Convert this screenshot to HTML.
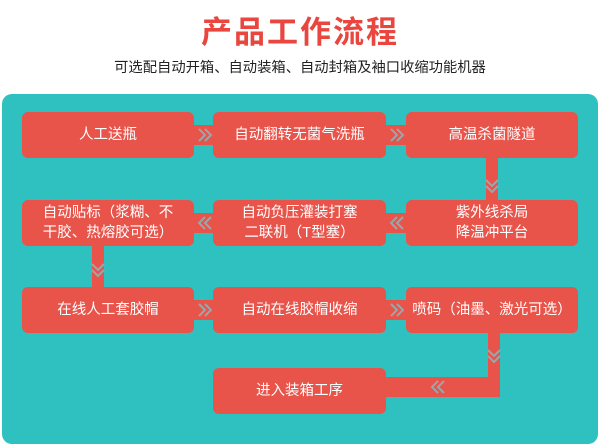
<!DOCTYPE html>
<html><head><meta charset="utf-8"><style>
body{margin:0;width:600px;height:431px;background:#fff;position:relative;overflow:hidden;font-family:"Liberation Sans","Noto Sans CJK SC",sans-serif}
.t{position:absolute;left:0;width:600px;text-align:center}
#panel{position:absolute;left:2px;top:94px;width:596px;height:350px;background:#2fc0c0;border-radius:10px}
.b{position:absolute;background:#e8534a;border-radius:6px;color:#fff;font-size:14.5px;display:flex;align-items:center;justify-content:center;text-align:center;line-height:20px}
.h{position:absolute;background:#e8534a;height:20px}
.v{position:absolute;background:#e8534a;width:12px}
svg{position:absolute;left:0;top:0}
</style></head><body>
<div class="t" style="top:7px;font-size:31px;font-weight:bold;color:#e8463e;letter-spacing:2px">产品工作流程</div>
<div class="t" style="top:56px;font-size:14.3px;color:#222">可选配自动开箱、自动装箱、自动封箱及袖口收缩功能机器</div>
<div id="panel"></div>
<div class="h" style="left:190px;top:125px;width:28px"></div>
<div class="h" style="left:382px;top:125px;width:28px"></div>
<div class="v" style="left:486px;top:154px;height:50px"></div>
<div class="h" style="left:382px;top:213px;width:28px"></div>
<div class="h" style="left:190px;top:213px;width:28px"></div>
<div class="v" style="left:92px;top:242px;height:50px"></div>
<div class="h" style="left:190px;top:300px;width:28px"></div>
<div class="h" style="left:382px;top:300px;width:28px"></div>
<div class="v" style="left:488px;top:328px;height:69px"></div>
<div class="h" style="left:382px;top:377px;width:118px"></div>
<svg width="600" height="431" fill="none" stroke="#9aa6ac" stroke-width="2">
<path d="M199 129l6 6-6 6M205 129l6 6-6 6"/>
<path d="M391 129l6 6-6 6M397 129l6 6-6 6"/>
<path d="M486 180l6 6 6-6M486 186l6 6 6-6"/>
<path d="M403 217l-6 6 6 6M397 217l-6 6 6 6"/>
<path d="M211 217l-6 6 6 6M205 217l-6 6 6 6"/>
<path d="M92 264l6 6 6-6M92 270l6 6 6-6"/>
<path d="M199 304l6 6-6 6M205 304l6 6-6 6"/>
<path d="M391 304l6 6-6 6M397 304l6 6-6 6"/>
<path d="M488 350l6 6 6-6M488 356l6 6 6-6"/>
<path d="M444 381l-6 6 6 6M438 381l-6 6 6 6"/>
</svg>
<div class="b" style="left:22px;top:112px;width:172px;height:46px">人工送瓶</div>
<div class="b" style="left:213px;top:112px;width:173px;height:46px">自动翻转无菌气洗瓶</div>
<div class="b" style="left:406px;top:112px;width:172px;height:46px">高温杀菌隧道</div>
<div class="b" style="left:22px;top:200px;width:172px;height:46px">自动贴标（浆糊、不<br>干胶、热熔胶可选）</div>
<div class="b" style="left:213px;top:200px;width:173px;height:46px">自动负压灌装打塞<br>二联机（T型塞）</div>
<div class="b" style="left:406px;top:200px;width:172px;height:46px">紫外线杀局<br>降温冲平台</div>
<div class="b" style="left:22px;top:287px;width:172px;height:46px">在线人工套胶帽</div>
<div class="b" style="left:213px;top:287px;width:173px;height:46px">自动在线胶帽收缩</div>
<div class="b" style="left:406px;top:287px;width:172px;height:46px">喷码（油墨、激光可选）</div>
<div class="b" style="left:213px;top:368px;width:173px;height:46px">进入装箱工序</div>
</body></html>
